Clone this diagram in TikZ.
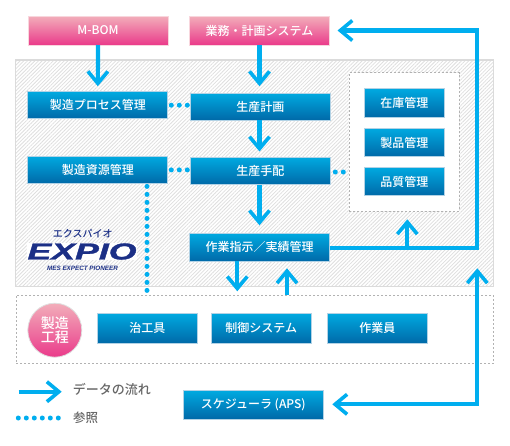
\documentclass[tikz,border=0pt]{standalone}
\usepackage{fontspec}
\setmainfont{Noto Sans CJK JP}[UprightFont=* Medium]
\newfontfamily\logofont{Liberation Sans}[BoldItalicFeatures={FakeBold=1.2}]
\newfontfamily\sloganfont{Liberation Sans}
\usetikzlibrary{arrows.meta,positioning,patterns.meta,shapes}
\definecolor{flowblue}{HTML}{00AEEF}
\definecolor{boxtop}{HTML}{00A9E0}
\definecolor{boxbot}{HTML}{0069A8}
\definecolor{pinktop}{HTML}{F2AEBA}
\definecolor{pinkbot}{HTML}{EA3A8A}
\definecolor{logoblue}{HTML}{1B2F86}

\begin{document}
\begin{tikzpicture}[x=1pt, y=-1pt, node distance=10pt,
  barb/.tip={Straight Barb[length=12pt,width=20pt,line width=3.6pt]},
  block/.style={rectangle, draw=boxbot!30, line width=0.8pt, outer sep=0pt, top color=boxtop, bottom color=boxbot, minimum height=27pt, minimum width=140pt, align=center, text=white, inner sep=0pt, font=\fontsize{12}{14}\selectfont},
  sidebox/.style={block, minimum width=80pt, minimum height=28.5pt},
  shopbox/.style={block, minimum width=100pt, minimum height=30pt},
  pinkbox/.style={block, draw=pinktop!50, top color=pinktop, bottom color=pinkbot, minimum height=29pt},
  panel/.style={draw=black!14, line width=1.2pt, pattern={Lines[angle=45,distance=2.6pt,line width=0.8pt]}, pattern color=black!13},
  dashpanel/.style={draw=black!30, line width=0.8pt, dash pattern=on 2pt off 2pt, fill=white},
  flow/.style={-barb, draw=flowblue, line width=4.2pt},
  flowtwo/.style={barb-barb, draw=flowblue, line width=4.2pt},
  refdots/.style={draw=flowblue, line width=5pt, line cap=round, dash pattern=on 0pt off 8pt}]
\useasboundingbox (0,0) rectangle (510,445);

% panels
\node[panel, minimum width=478pt, minimum height=226.5pt, inner sep=0pt, outer sep=0pt] (plant) at (254.7,173.2) {};
\node[dashpanel, minimum width=477.5pt, minimum height=68pt, inner sep=0pt, outer sep=0pt] (shop) at (254.9,329.3) {};
\node[dashpanel, minimum width=110pt, minimum height=138.3pt, inner sep=0pt, outer sep=0pt] (stores) at (404.3,141.9) {};

% top row
\node[pinkbox] (mbom) at (98,30.5) {M-BOM};
\node[pinkbox, right=21.5pt of mbom] (sys) {業務・計画システム};

% left and middle columns
\node[block] (proc) at (97.8,105.2) {製造プロセス管理};
\node[block, below=37.7pt of proc] (res) {製造資源管理};
\node[block] (plan) at (260.3,106.7) {生産計画};
\node[block, below=37.3pt of plan] (disp) {生産手配};
\node[block, minimum height=28pt] (order) at (259.5,247.3) {作業指示／実績管理};

% stores column
\node[sidebox] (stock) at (404.3,103) {在庫管理};
\node[sidebox, below=11pt of stock] (goods) {製品管理};
\node[sidebox, below=10.5pt of goods] (quality) {品質管理};

% shop floor
\node[circle, draw=black!12, line width=0.8pt, top color=pinktop, bottom color=pinkbot, minimum size=54pt, inner sep=0pt, align=center, text=white, font=\fontsize{14}{14.5}\selectfont] (floor) at (54.8,330.2) {製造\\工程};
\node[shopbox] (tool) at (147.3,328.3) {治工具};
\node[shopbox, right=14pt of tool] (ctrl) {制御システム};
\node[shopbox, right=16pt of ctrl] (worker) {作業員};

\node[block, minimum height=28.3pt] (aps) at (253.3,404.8) {スケジューラ (APS)};

% logo
\node[text=logoblue, font=\fontsize{10}{10}\selectfont, inner sep=0pt] (kana) at (82.8,233.3) {エクスパイオ};
\node[text=logoblue, fill=white, font=\logofont\bfseries\itshape\fontsize{23}{23}\selectfont, inner sep=0.5pt, xscale=1.55, transform shape] (logo) at (82,251.5) {EXPIO};
\node[text=logoblue, font=\sloganfont\bfseries\itshape\fontsize{6.3}{7}\selectfont, inner sep=0pt] (slogan) at (82.5,268.7) {MES EXPECT PIONEER};

% data flow
\draw[flow, shorten >=5.5pt] (mbom.south) -- (proc.north);
\draw[flow, shorten >=7pt] (sys.south) -- (sys.south |- plan.north);
\draw[flow, shorten >=6pt] (sys.south |- plan.south) -- (sys.south |- disp.north);
\draw[flow, shorten >=8pt] (sys.south |- disp.south) -- (sys.south |- order.north);
\coordinate (down) at (237.3,261.3);
\coordinate (shopin) at (237.3,295.3);
\coordinate (shopout) at (287,295.3);
\coordinate (orderin) at (287,261.3);
\coordinate (loopr) at (477.3,247.7);
\coordinate (sched) at (477.3,404.3);
\draw[flow, shorten >=4pt] (down) -- (shopin);
\draw[flow, shorten >=7pt] (shopout) -- (orderin);
\draw[flow] (order.east |- loopr) -- (loopr) |- ([xshift=8pt]sys.east);
\draw[flow] (407.3,247.7) -- (407.3,219.3);
\draw[flowtwo] (477.3,268.3) -- (sched) -- ([xshift=9pt]aps.east |- sched);

% references
\draw[refdots] ([xshift=3.5pt]proc.east) -- ([xshift=-3pt]proc.east -| plan.west);
\draw[refdots] ([xshift=3.5pt]res.east) -- ([xshift=-3pt]res.east -| disp.west);
\draw[refdots] ([xshift=5pt,yshift=-1pt]disp.east) -- ([yshift=-1pt]disp.east -| stores.west);
\coordinate (dotdrop) at (147,291);
\draw[refdots] (dotdrop |- res.south) ++(0,3) -- (dotdrop);

% legend
\coordinate (legfrom) at (18.7,391.7);
\coordinate (legto) at (61.7,391.7);
\coordinate (dotfrom) at (18.3,418);
\coordinate (dotto) at (60,418);
\draw[flow] (legfrom) -- (legto);
\draw[refdots] (dotfrom) -- (dotto);
\node[right=11pt of legto, inner sep=0pt, text=black!60, font=\fontsize{13}{13}\selectfont, yshift=2pt] (legflow) {データの流れ};
\node[right=13pt of dotto, inner sep=0pt, text=black!60, font=\fontsize{12.5}{13}\selectfont] (legref) {参照};
\end{tikzpicture}
\end{document}
